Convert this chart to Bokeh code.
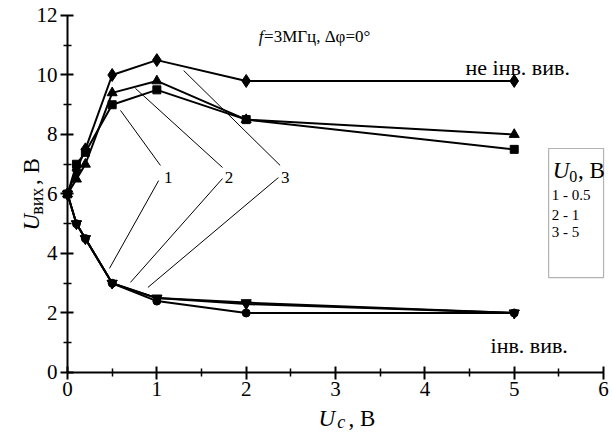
import math
from bokeh.plotting import figure
from bokeh.models import Label, BoxAnnotation, FixedTicker, Range1d
from bokeh.embed import file_html
from bokeh.resources import INLINE

# ---- data ----
uc = [0, 0.1, 0.2, 0.5, 1, 2, 5]
# non-inverting output (не інв. вив.)
up_05 = [6.0, 7.0, 7.4, 9.0, 9.5, 8.5, 7.5]     # U0 = 0.5 (1)
up_1 = [6.0, 6.5, 7.0, 9.4, 9.8, 8.5, 8.0]      # U0 = 1   (2)
up_5 = [6.0, 6.8, 7.5, 10.0, 10.5, 9.8, 9.8]    # U0 = 5   (3)
# inverting output (інв. вив.)
lo_05 = [6.0, 5.0, 4.5, 3.0, 2.4, 2.0, 2.0]
lo_1 = [6.0, 5.0, 4.5, 3.0, 2.5, 2.35, 2.0]
lo_5 = [6.0, 5.0, 4.5, 3.0, 2.5, 2.3, 2.0]

x_ticks = [0, 1, 2, 3, 4, 5, 6]
y_ticks = [0, 2, 4, 6, 8, 10, 12]
legend_rows = ["1 - 0.5", "2 - 1", "3 - 5"]

FONT = "Liberation Serif"

p = figure(width=612, height=432,
           x_range=Range1d(-0.75, 6.10), y_range=Range1d(-2.017, 12.504),
           output_backend="svg", toolbar_location=None,
           min_border=0, min_border_left=0, min_border_right=0,
           min_border_top=0, min_border_bottom=0)
p.outline_line_color = None
p.xgrid.visible = False
p.ygrid.visible = False
p.background_fill_color = "white"
p.border_fill_color = "white"

p.xaxis.fixed_location = 0
p.yaxis.fixed_location = 0
p.xaxis.bounds = (0, 6)
p.yaxis.bounds = (0, 12)

p.axis.axis_line_width = 2
p.axis.axis_line_color = "black"
p.axis.major_tick_line_width = 2
p.axis.minor_tick_line_width = 1.5
p.axis.major_tick_in = 6
p.axis.major_tick_out = 7
p.axis.minor_tick_in = 4
p.axis.minor_tick_out = 4
p.axis.major_label_text_font = FONT
p.axis.major_label_text_font_size = "21px"
p.axis.major_label_text_color = "black"

p.xaxis.ticker = FixedTicker(ticks=x_ticks, minor_ticks=[0.5, 1.5, 2.5, 3.5, 4.5, 5.5])
p.yaxis.ticker = FixedTicker(ticks=y_ticks, minor_ticks=[1, 3, 5, 7, 9, 11])
p.xaxis.major_label_standoff = 3
p.yaxis.major_label_standoff = 3

LW = 2
# leader lines
p.segment(x0=[0.593, 1.02, 0.76, 1.735, 1.30, 2.36],
          y0=[8.81, 6.45, 9.55, 6.52, 10.15, 6.55],
          x1=[1.04, 0.47, 1.735, 0.705, 2.38, 0.90],
          y1=[6.96, 3.50, 6.89, 3.03, 6.96, 2.86],
          line_color="black", line_width=1)

p.line(uc, up_05, line_color="black", line_width=LW)
p.line(uc, up_1, line_color="black", line_width=LW)
p.line(uc, up_5, line_color="black", line_width=LW)
p.line(uc, lo_05, line_color="black", line_width=LW)
p.line(uc, lo_1, line_color="black", line_width=LW)
p.line(uc, lo_5, line_color="black", line_width=LW)

p.scatter(uc, up_05, marker="square", size=8, color="black")
p.scatter(uc, up_1, marker="triangle", size=10, color="black")
p.scatter(uc, up_5, marker="diamond", size=13, color="black")
p.scatter(uc, lo_05, marker="circle", size=8, color="black")
p.scatter(uc, lo_5, marker="inverted_triangle", size=10, color="black")
p.scatter(uc, lo_1, marker="inverted_triangle", size=10, color="black")

def lab(x, y, text, size, style="normal", angle=0.0):
    p.add_layout(Label(x=x, y=y, text=text, text_font=FONT,
                       text_font_size=size, text_font_style=style,
                       text_color="black", angle=angle,
                       text_baseline="alphabetic", text_align="left"))

# curve numbers
lab(1.08, 6.55, "1", "17px")
lab(1.76, 6.55, "2", "17px")
lab(2.39, 6.55, "3", "17px")

# headings
lab(2.14, 11.29, "f", "17px", "italic")
lab(2.20, 11.29, "=3МГц, Δφ=0°", "17px")
lab(4.455, 10.25, "не інв. вив.", "22px")
lab(4.735, 0.91, "інв. вив.", "22px")

# legend box
p.add_layout(BoxAnnotation(left=5.385, right=6.0, top=7.53, bottom=3.19,
                           fill_color=None, fill_alpha=0,
                           line_color="black", line_width=1.2))
lab(5.43, 6.79, "U", "23px", "italic")
lab(5.615, 6.60, "0", "16px")
lab(5.715, 6.79, ", В", "23px")
lab(5.42, 5.95, legend_rows[0], "15px")
lab(5.42, 5.31, legend_rows[1], "15px")
lab(5.42, 4.71, legend_rows[2], "15px")

# x-axis title
lab(2.81, -1.55, "U", "23px", "italic")
lab(3.02, -1.67, "c", "18px", "italic")
lab(3.145, -1.55, ", В", "23px")

# y-axis title (rotated)
ang = math.pi / 2
lab(-0.40, 4.77, "U", "23px", "italic", ang)
lab(-0.345, 5.30, "вих", "18px", "normal", ang)
lab(-0.40, 6.30, ", В", "23px", "normal", ang)

open("out.html", "w").write(file_html(p, INLINE))
